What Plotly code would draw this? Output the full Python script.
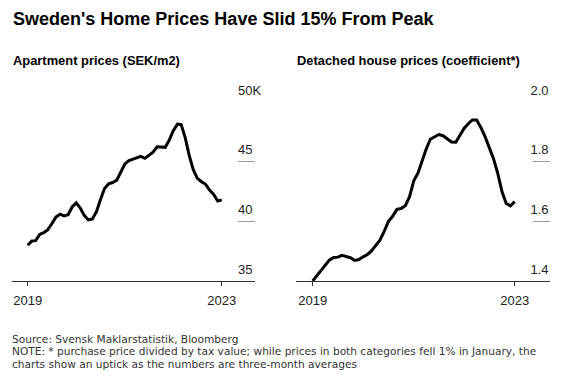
import plotly.graph_objects as go
import pandas as pd

# ---- data ----
months = pd.date_range("2019-01-01", periods=49, freq="MS")

apartment_prices = [
    38.00, 38.35, 38.38, 38.90, 39.05, 39.30, 39.80, 40.35, 40.60, 40.45,
    40.55, 41.20, 41.55, 41.10, 40.50, 40.12, 40.20, 40.80, 41.80, 42.75,
    43.15, 43.25, 43.45, 44.05, 44.80, 45.10, 45.20, 45.35, 45.45, 45.28,
    45.55, 45.80, 46.25, 46.25, 46.20, 46.80, 47.60, 48.15, 48.10, 47.00,
    45.50, 44.30, 43.60, 43.32, 43.10, 42.62, 42.25, 41.70, 41.80,
]

detached_prices = [
    1.400, 1.418, 1.437, 1.455, 1.470, 1.479, 1.480, 1.486, 1.481, 1.478,
    1.469, 1.472, 1.481, 1.489, 1.501, 1.518, 1.537, 1.566, 1.599, 1.617,
    1.640, 1.643, 1.652, 1.682, 1.736, 1.762, 1.804, 1.842, 1.875, 1.884,
    1.891, 1.887, 1.876, 1.866, 1.865, 1.888, 1.912, 1.928, 1.940, 1.940,
    1.915, 1.884, 1.849, 1.810, 1.760, 1.700, 1.660, 1.652, 1.666,
]

x_tick_vals = ["2019-01-01", "2023-01-01"]
x_tick_text = ["2019", "2023"]
apt_tick_vals = [35, 40, 45, 50]
apt_tick_text = ["35", "40", "45", "50K"]
det_tick_vals = [1.4, 1.6, 1.8, 2.0]
det_tick_text = ["1.4", "1.6", "1.8", "2.0"]

title = "Sweden's Home Prices Have Slid 15% From Peak"
sub_left = "Apartment prices (SEK/m2)"
sub_right = "Detached house prices (coefficient*)"
footer_lines = [
    "Source: Svensk Maklarstatistik, Bloomberg",
    "NOTE: * purchase price divided by tax value; while prices in both categories fell 1% in January, the",
    "charts show an uptick as the numbers are three-month averages",
]

# ---- layout helpers ----
W, H = 574, 377
OX, OY = 8, 8  # page body margin offset
FONT = "Liberation Sans, Arial, Helvetica, sans-serif"
FOOT_FONT = "DejaVu Sans, Liberation Sans, Arial, sans-serif"


def px(x):
    return (x - OX) / W


def py(y):
    return 1 - (y - OY) / H


fig = go.Figure()
fig.add_trace(go.Scatter(x=months, y=apartment_prices, mode="lines",
                         line=dict(color="#000000", width=3),
                         xaxis="x", yaxis="y", hoverinfo="skip", showlegend=False))
fig.add_trace(go.Scatter(x=months, y=detached_prices, mode="lines",
                         line=dict(color="#000000", width=3),
                         xaxis="x2", yaxis="y2", hoverinfo="skip", showlegend=False))

xcommon = dict(type="date", tickvals=x_tick_vals, ticktext=x_tick_text,
               showline=True, linecolor="#333333", linewidth=1,
               ticks="outside", ticklen=4, tickcolor="#333333", tickwidth=1,
               showgrid=False, zeroline=False, automargin=False,
               ticklabelstandoff=3,
               tickfont=dict(family=FONT, size=13, color="#222222"))
ycommon = dict(side="right", ticks="inside", ticklen=17, tickcolor="#9a9a9a",
               tickwidth=1, showgrid=False, zeroline=False, showline=False,
               ticklabelposition="outside", ticklabelshift=-12, automargin=False,
               tickfont=dict(family=FONT, size=13, color="#222222"))

fig.update_layout(
    width=W, height=H,
    margin=dict(l=0, r=0, t=0, b=0, autoexpand=False),
    paper_bgcolor="white", plot_bgcolor="white",
    xaxis=dict(domain=[px(11.7), px(255)], anchor="y",
               range=["2018-09-02", "2023-09-08"], **xcommon),
    yaxis=dict(domain=[py(281), py(102)], anchor="x", range=[35, 50],
               tickvals=apt_tick_vals, ticktext=apt_tick_text,
               ticklabelstandoff=-18, **ycommon),
    xaxis2=dict(domain=[px(295.7), px(549.5)], anchor="y2",
                range=["2018-08-31", "2023-09-10"], **xcommon),
    yaxis2=dict(domain=[py(281), py(102)], anchor="x2", range=[1.4, 2.0],
                tickvals=det_tick_vals, ticktext=det_tick_text,
                ticklabelstandoff=-20, **ycommon),
)

annotations = [
    dict(text="<b>" + title + "</b>", x=px(11), y=py(19), xanchor="left", yanchor="middle",
         font=dict(family=FONT, size=18, color="#000000")),
    dict(text="<b>" + sub_left + "</b>", x=px(11), y=py(60), xanchor="left", yanchor="middle",
         font=dict(family=FONT, size=12.9, color="#000000")),
    dict(text="<b>" + sub_right + "</b>", x=px(295), y=py(60), xanchor="left", yanchor="middle",
         font=dict(family=FONT, size=12.9, color="#000000")),
]
for i, line in enumerate(footer_lines):
    annotations.append(dict(text=line, x=px(11), y=py(338.5 + 12.6 * i), xanchor="left",
                            yanchor="middle", borderpad=0,
                            font=dict(family=FOOT_FONT, size=10.6, color="#333333")))
for a in annotations:
    a.update(xref="paper", yref="paper", showarrow=False)
fig.update_layout(annotations=annotations)

fig.write_html("out.html")
